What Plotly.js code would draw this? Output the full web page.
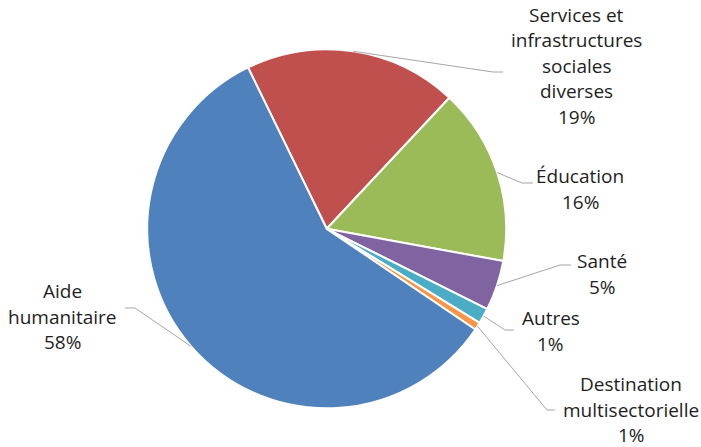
<!DOCTYPE html>
<html>
<head>
<meta charset="utf-8">
<script src="https://cdn.plot.ly/plotly-3.0.1.min.js"></script>
<style>html,body{margin:0;padding:0;background:#fff;}#chart{width:701px;height:447px;}</style>
</head>
<body>
<div id="chart"></div>
<script>
// ---- data ----
const categories = ["Services et infrastructures sociales diverses", "Éducation", "Santé", "Autres", "Destination multisectorielle", "Aide humanitaire"];
const labelLines = [["Services et", "infrastructures", "sociales", "diverses"], ["Éducation"], ["Santé"], ["Autres"], ["Destination", "multisectorielle"], ["Aide", "humanitaire"]];
const values = [19.2, 15.9, 4.5, 1.4, 0.7, 58.3];
const colors = ["#C0504D", "#9BBB59", "#8064A2", "#4BACC6", "#F79646", "#4F81BD"];

// ---- layout (pixel positions of labels and leader-line elbows) ----
const W = 701, H = 447;
const pieCx = 326.7, pieCy = 228.8, pieR = 179.5;
const startAngle = -26; // degrees clockwise from 12 o'clock
const labelPos = [
  {cx: 576, y0: 14.5, elbow: [493, 72], end: [503, 72]},
  {cx: 580, y0: 176, elbow: [522, 183], end: [533, 183]},
  {cx: 602, y0: 261, elbow: [560, 265], end: [571, 265]},
  {cx: 550.5, y0: 318, elbow: [505, 330], end: [514, 330]},
  {cx: 631, y0: 384, elbow: [547, 410], end: [555, 410]},
  {cx: 62, y0: 291, elbow: [135, 308], end: [125, 308]}
];
const lineStep = 25.6;
const px = x => x / W;
const py = y => 1 - y / H;

const total = values.reduce((a, b) => a + b, 0);
const annotations = [];
const shapes = [];
let acc = 0;
values.forEach((v, i) => {
  const mid = (startAngle + (acc + v / 2) / total * 360) * Math.PI / 180;
  acc += v;
  const ex = pieCx + pieR * Math.sin(mid);
  const ey = pieCy - pieR * Math.cos(mid);
  const p = labelPos[i];
  const lines = labelLines[i].concat([Math.round(v / total * 100) + "%"]);
  lines.forEach((t, k) => {
    annotations.push({
      xref: "paper", yref: "paper", x: px(p.cx), y: py(p.y0 + k * lineStep),
      xanchor: "center", yanchor: "middle", showarrow: false, text: t,
      font: {family: "Open Sans", size: 19, color: "#1E1E1E"}
    });
  });
  shapes.push({
    type: "path", xref: "paper", yref: "paper", layer: "above",
    path: `M ${px(ex)} ${py(ey)} L ${px(p.elbow[0])} ${py(p.elbow[1])} L ${px(p.end[0])} ${py(p.end[1])}`,
    line: {color: "#A6A6A6", width: 1}
  });
});

const trace = {
  type: "pie",
  labels: categories,
  values: values,
  sort: false,
  direction: "clockwise",
  rotation: startAngle,
  textinfo: "none",
  hoverinfo: "label+percent",
  marker: {colors: colors, line: {color: "#FFFFFF", width: 2}},
  domain: {x: [px(pieCx - pieR), px(pieCx + pieR)], y: [py(pieCy + pieR), py(pieCy - pieR)]},
  showlegend: false
};

Plotly.newPlot("chart", [trace], {
  width: W, height: H,
  margin: {l: 0, r: 0, t: 0, b: 0},
  paper_bgcolor: "#FFFFFF",
  showlegend: false,
  annotations: annotations,
  shapes: shapes
}, {displayModeBar: false, staticPlot: true});
</script>
</body>
</html>
